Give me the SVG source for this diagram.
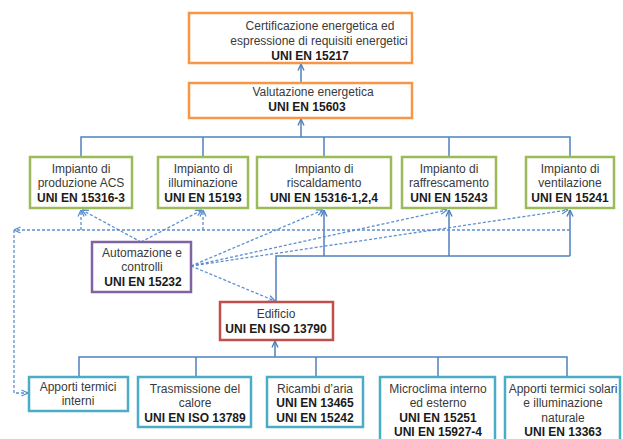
<svg xmlns="http://www.w3.org/2000/svg" width="623" height="439" viewBox="0 0 623 439">
<defs>
<marker id="a" viewBox="0 0 8 8" refX="7.5" refY="4" markerWidth="8" markerHeight="8" orient="auto" markerUnits="userSpaceOnUse"><path d="M1,1 L7.5,4 L1,7" fill="none" stroke="#4f81bd" stroke-width="1.4"/></marker>
<marker id="d" viewBox="0 0 8 8" refX="7.5" refY="4" markerWidth="8" markerHeight="8" orient="auto" markerUnits="userSpaceOnUse"><path d="M1,1 L7.5,4 L1,7" fill="none" stroke="#5b8fd0" stroke-width="1.3"/></marker>
</defs>
<style>
text{font-family:"Liberation Sans",Arial,sans-serif;font-size:12px;fill:#3a3a3a;text-anchor:middle}
.b{font-weight:bold;fill:#1a1a1a}
rect{fill:#fff;stroke-width:2.5}
.o{stroke:#f79646}
.g{stroke:#9bbb59}
.p{stroke:#8064a2}
.r{stroke:#c0504d}
.c{stroke:#4bacc6}
.s{fill:none;stroke:#4f81bd;stroke-width:1.5}
.sa{fill:none;stroke:#4f81bd;stroke-width:1.5;marker-end:url(#a)}
.dd{fill:none;stroke:#5b8fd0;stroke-width:1.3;stroke-dasharray:3 2;marker-end:url(#d)}
</style>
<rect width="623" height="439" fill="#fff" stroke="none"/>
<g id="connectors">
<path class="sa" d="M301,82 V64"/>
<path class="sa" d="M301,137 V119"/>
<path class="s" d="M81,157 V137 H570 V157 M203,137 V157 M324,137 V157 M449,137 V157"/>
<path class="s" d="M276,302 V256 H570"/>
<path class="sa" d="M324,256 V210"/>
<path class="sa" d="M449,256 V210"/>
<path class="sa" d="M570,256 V210"/>
<path class="sa" d="M275,357 V341"/>
<path class="s" d="M79,377 V357 H567 V377 M196,357 V377 M316,357 V377 M438,357 V377"/>
<path class="dd" d="M570,230 H14"/>
<path class="dd" d="M14,230 V393 H28"/>
<path class="dd" d="M81,230 V210"/>
<path class="dd" d="M203,230 V210"/>
<path class="dd" d="M141,242 L82,210"/>
<path class="dd" d="M141,242 L202,210"/>
<path class="dd" d="M191,266 L323,210"/>
<path class="dd" d="M191,266 L447,210"/>
<path class="dd" d="M191,266 L568,210"/>
<path class="dd" d="M191,266 L275,301"/>
</g>
<g id="certificazione">
<rect class="o" x="189" y="13" width="223" height="50"/>
<text x="320" y="30">Certificazione energetica ed</text>
<text x="319" y="45">espressione di requisiti energetici</text>
<text class="b" x="310" y="60">UNI EN 15217</text>
</g>
<g id="valutazione">
<rect class="o" x="189" y="83" width="223" height="35"/>
<text x="313" y="96">Valutazione energetica</text>
<text class="b" x="307" y="111">UNI EN 15603</text>
</g>
<g id="acs">
<rect class="g" x="30" y="157" width="102" height="51"/>
<text x="81" y="173">Impianto di</text>
<text x="81" y="187">produzione ACS</text>
<text class="b" x="81" y="202">UNI EN 15316-3</text>
</g>
<g id="illuminazione">
<rect class="g" x="158" y="157" width="90" height="51"/>
<text x="203" y="173">Impianto di</text>
<text x="203" y="187">illuminazione</text>
<text class="b" x="203" y="202">UNI EN 15193</text>
</g>
<g id="riscaldamento">
<rect class="g" x="257" y="157" width="134" height="51"/>
<text x="324" y="173">Impianto di</text>
<text x="324" y="187">riscaldamento</text>
<text class="b" x="324" y="202">UNI EN 15316-1,2,4</text>
</g>
<g id="raffrescamento">
<rect class="g" x="402" y="157" width="94" height="51"/>
<text x="449" y="173">Impianto di</text>
<text x="449" y="187">raffrescamento</text>
<text class="b" x="449" y="202">UNI EN 15243</text>
</g>
<g id="ventilazione">
<rect class="g" x="526" y="157" width="88" height="51"/>
<text x="570" y="173">Impianto di</text>
<text x="570" y="187">ventilazione</text>
<text class="b" x="570" y="202">UNI EN 15241</text>
</g>
<g id="automazione">
<rect class="p" x="92" y="242" width="99" height="50"/>
<text x="142" y="257">Automazione e</text>
<text x="142" y="271">controlli</text>
<text class="b" x="143" y="286">UNI EN 15232</text>
</g>
<g id="edificio">
<rect class="r" x="220" y="302" width="113" height="38"/>
<text x="276" y="318">Edificio</text>
<text class="b" x="276" y="333">UNI EN ISO 13790</text>
</g>
<g id="apporti-interni">
<rect class="c" x="29" y="377" width="99" height="34"/>
<text x="78" y="391">Apporti termici</text>
<text x="78" y="405">interni</text>
</g>
<g id="trasmissione">
<rect class="c" x="138" y="377" width="113" height="50"/>
<text x="195" y="393">Trasmissione del</text>
<text x="195" y="407">calore</text>
<text class="b" x="195" y="422">UNI EN ISO 13789</text>
</g>
<g id="ricambi">
<rect class="c" x="267" y="377" width="96" height="50"/>
<text x="315" y="393">Ricambi d’aria</text>
<text class="b" x="315" y="407">UNI EN 13465</text>
<text class="b" x="315" y="422">UNI EN 15242</text>
</g>
<g id="microclima">
<rect class="c" x="380" y="377" width="115" height="66"/>
<text x="438" y="393">Microclima interno</text>
<text x="438" y="407">ed esterno</text>
<text class="b" x="438" y="422">UNI EN 15251</text>
<text class="b" x="438" y="436">UNI EN 15927-4</text>
</g>
<g id="apporti-solari">
<rect class="c" x="505" y="377" width="115" height="66"/>
<text x="563" y="393">Apporti termici solari</text>
<text x="563" y="407">e illuminazione</text>
<text x="563" y="422">naturale</text>
<text class="b" x="563" y="436">UNI EN 13363</text>
</g>
</svg>
